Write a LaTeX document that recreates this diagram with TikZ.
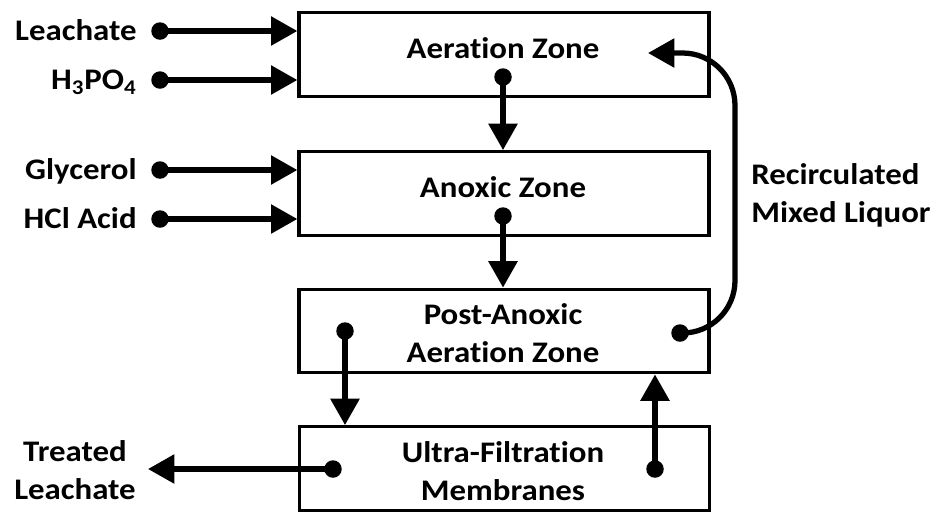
\documentclass[tikz,border=0pt]{standalone}
\usepackage{fontspec}
\setmainfont{Carlito}[FakeStretch=1.1, Ligatures=NoCommon]
\usetikzlibrary{arrows.meta}
\tikzset{
	zone/.style={draw, line width=1.9pt, minimum width=8.2cm, minimum height=1.67cm, inner sep=0pt},
	lbl/.style={font=\bfseries\fontsize{17}{21.5}\selectfont, inner sep=0pt, align=center},
	side/.style={lbl, anchor=east, text height=0.39cm, text depth=0pt},
	dot/.style={circle, fill, minimum size=0.35cm, inner sep=0pt},
	flow/.style={line width=3pt, -{Triangle[length=15pt, width=16pt]}},
}
\begin{document}
\begin{tikzpicture}[x=0.02cm, y=-0.02cm]
	\useasboundingbox (0,0) rectangle (934,512);
	\node[zone] (AE) at (504,54.5) {};
	\node[zone] (AN) at (504,193.5) {};
	\node[zone] (PA) at (504,331) {};
	\node[zone] (UF) at (504.5,468.5) {};
	\node[lbl] (AEt) at (503,48) {Aeration Zone};
	\node[lbl] (ANt) at (503,187) {Anoxic Zone};
	\node[lbl] (PAt) at (503,333) {Post-Anoxic\\Aeration Zone};
	\node[lbl] (UFt) at (503,471) {Ultra-Filtration\\Membranes};
	\node[side] (L1) at (137,31) {Leachate};
	\node[side] (L2) at (137,80) {H\textsubscript{3}PO\textsubscript{4}};
	\node[side] (L3) at (137,170) {Glycerol};
	\node[side] (L4) at (137,219) {HCl Acid};
	\node[lbl] (TL) at (75,470) {Treated\\Leachate};
	\node[lbl, anchor=west, align=left] (RM) at (751,195) {Recirculated\\Mixed Liquor};
	\node[dot] (D1) at (160,31) {};
	\node[dot] (D2) at (160,80) {};
	\node[dot] (D3) at (160,170) {};
	\node[dot] (D4) at (160,219) {};
	\node[dot] (AEd) at (503,77) {};
	\node[dot] (ANd) at (503,216) {};
	\node[dot] (PAd) at (345,331) {};
	\node[dot] (PAr) at (680,333) {};
	\node[dot] (UFl) at (333,469) {};
	\node[dot] (UFr) at (655,469) {};
	\coordinate (TLin) at (148,469);
	\coordinate (RC) at (735,53);
	\coordinate (AEin) at (648,53);
	\draw[flow] (D1.center) -- (D1 -| AE.west);
	\draw[flow] (D2.center) -- (D2 -| AE.west);
	\draw[flow] (D3.center) -- (D3 -| AN.west);
	\draw[flow] (D4.center) -- (D4 -| AN.west);
	\draw[flow] (AEd.center) -- (AEd |- AN.north);
	\draw[flow] (ANd.center) -- (ANd |- PA.north);
	\draw[flow] (PAd.center) -- (PAd |- UF.north);
	\draw[flow] (UFr.center) -- (UFr |- PA.south);
	\draw[flow] (UFl.center) -- (TLin);
	\draw[flow, rounded corners=1.05cm] (PAr.center) -| (RC) -- (AEin);
\end{tikzpicture}
\end{document}
